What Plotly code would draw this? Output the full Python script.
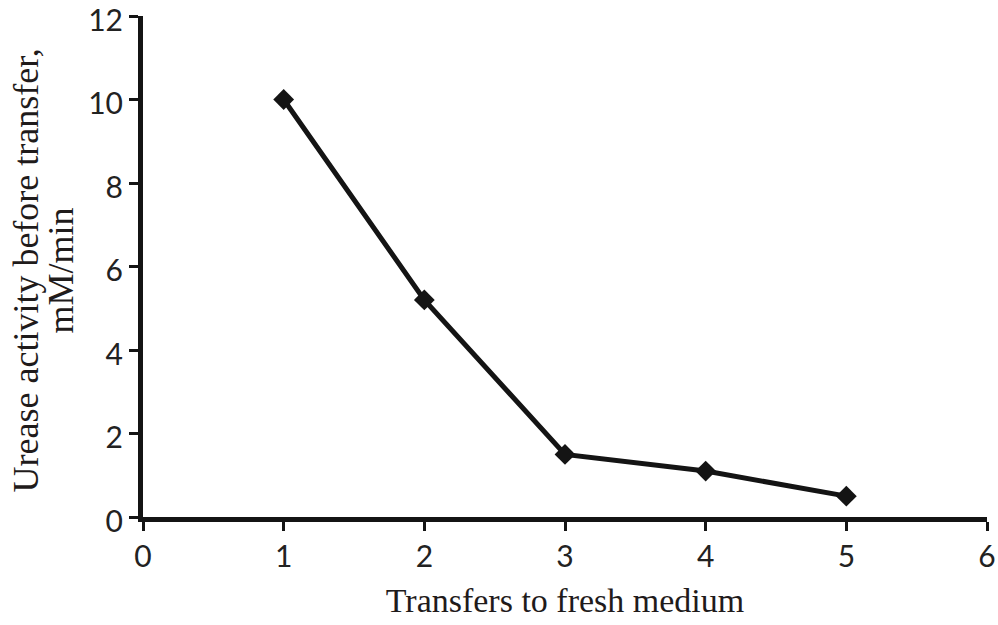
import plotly.graph_objects as go

# Urease activity measured before each transfer to fresh medium
transfers = [1, 2, 3, 4, 5]
activity = [10.0, 5.2, 1.5, 1.1, 0.5]

x_ticks = [0, 1, 2, 3, 4, 5, 6]
y_ticks = [0, 2, 4, 6, 8, 10, 12]

y_title_lines = ["Urease activity before transfer,", "mM/min"]

ink = "#141414"
title_color = "#1f1b1b"
tick_font = dict(family="Lato, sans-serif", size=30, color="#222222")
serif = "Liberation Serif, Times New Roman, serif"

fig = go.Figure()
fig.add_trace(go.Scatter(
    x=transfers,
    y=activity,
    mode="lines+markers",
    line=dict(color=ink, width=5),
    marker=dict(symbol="diamond", size=16, color=ink),
    showlegend=False,
    cliponaxis=False,
))

axis_common = dict(
    showgrid=False,
    zeroline=False,
    showline=True,
    linecolor=ink,
    linewidth=5,
    ticks="outside",
    ticklen=9,
    tickwidth=3,
    tickcolor=ink,
    tickfont=tick_font,
    ticklabeloverflow="allow",
    automargin=False,
)

# Two-line rotated y-axis title, lines set with tight spacing
for line_text, x_shift in zip(y_title_lines, [-118, -83]):
    fig.add_annotation(
        text=line_text,
        xref="paper", yref="paper",
        x=0, y=0.5,
        xanchor="center", yanchor="middle",
        xshift=x_shift, yshift=-4,
        textangle=-90,
        showarrow=False,
        font=dict(family=serif, size=36, color=title_color),
    )

fig.update_layout(
    width=998,
    height=625,
    margin=dict(l=143, r=11, t=16, b=108),
    paper_bgcolor="white",
    plot_bgcolor="white",
    xaxis=dict(
        range=[0, 6],
        tickvals=x_ticks,
        ticktext=[str(v) for v in x_ticks],
        title=dict(
            text="Transfers to fresh medium",
            font=dict(family=serif, size=34, color=title_color),
            standoff=18,
        ),
        **axis_common,
    ),
    yaxis=dict(
        range=[0, 12],
        tickvals=y_ticks,
        ticktext=[str(v) for v in y_ticks],
        ticklabelshift=4,
        **axis_common,
    ),
)

fig.write_html("out.html")
